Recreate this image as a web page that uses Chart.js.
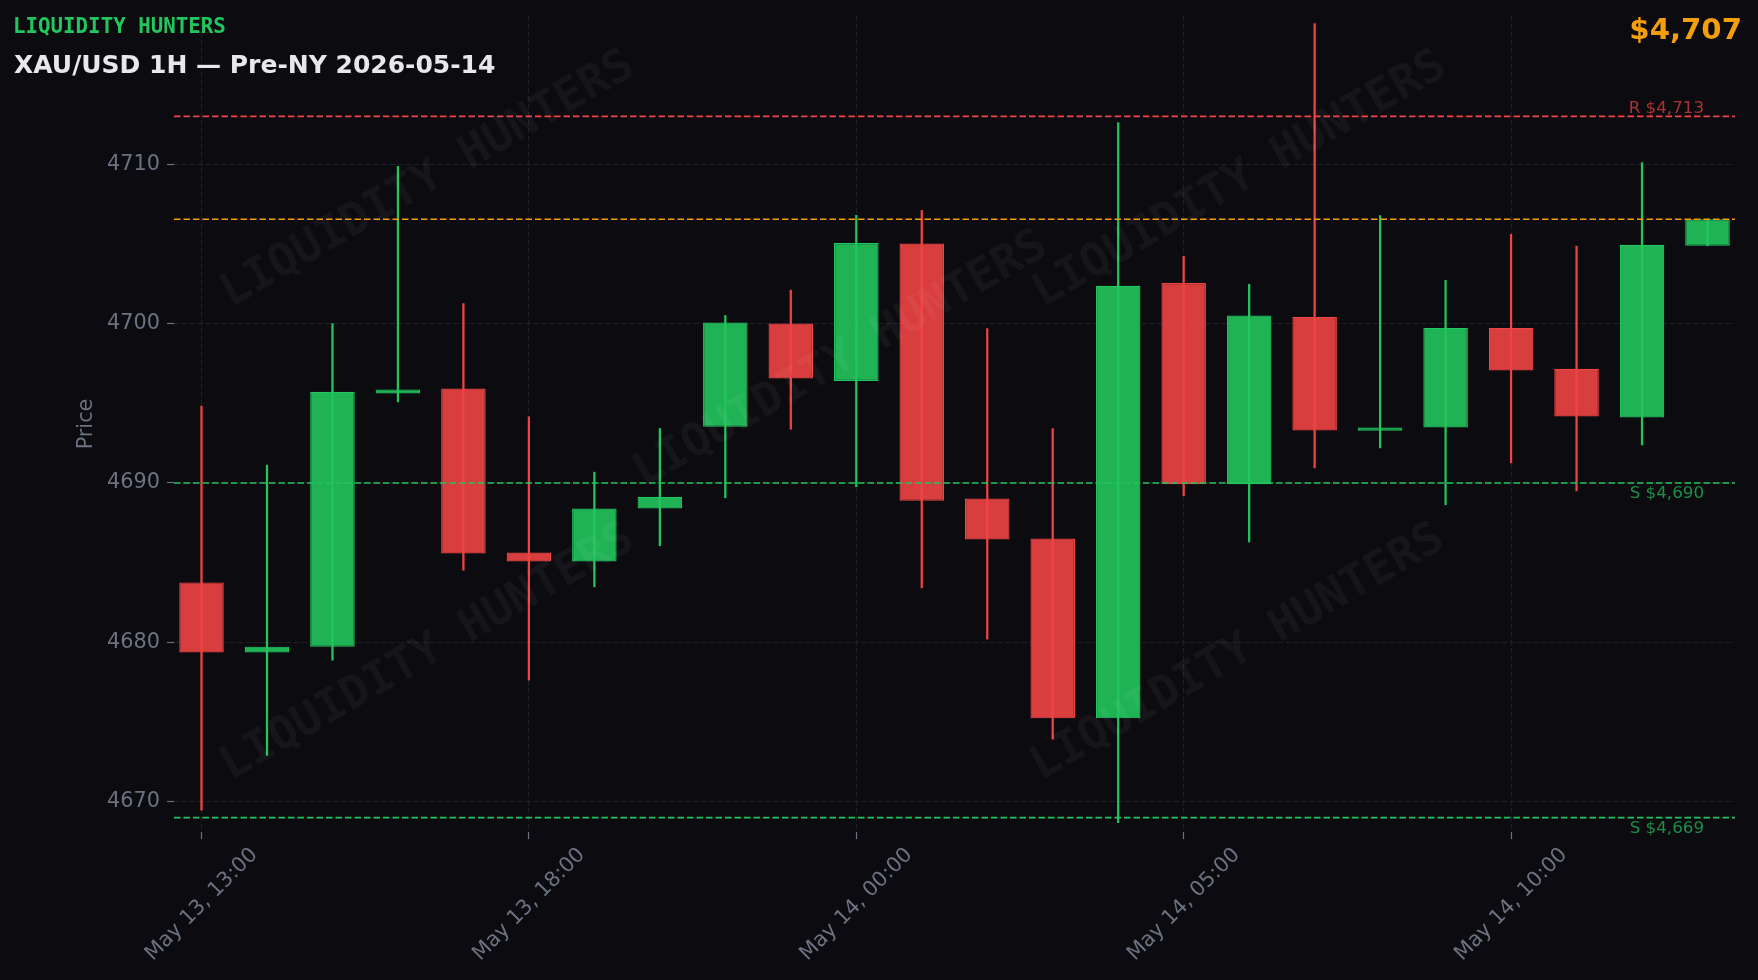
<!DOCTYPE html>
<html>
<head>
<meta charset="utf-8">
<title>XAU/USD 1H</title>
<script src="https://cdn.jsdelivr.net/npm/chart.js@4.4.1/dist/chart.umd.min.js"></script>
<style>
  html, body { margin: 0; padding: 0; background: #0b0b10; }
  #wrap { position: relative; width: 1758px; height: 980px; overflow: hidden; }
  #chart { position: absolute; left: 0; top: 0; }
  .txt { position: absolute; line-height: 1; white-space: nowrap; font-weight: bold; }
  #brand { left: 13px; top: 15.7px; font-family: "DejaVu Sans Mono", monospace; font-size: 20.8px; color: #22c55e; }
  #title { left: 14px; top: 52.2px; font-family: "DejaVu Sans", sans-serif; font-size: 25px; color: #e8e8ec; }
  #price { right: 16px; top: 14.6px; font-family: "DejaVu Sans", sans-serif; font-size: 29.2px; color: #f59e0b; }
</style>
</head>
<body>
<div id="wrap">
  <canvas id="chart" width="1758" height="980"></canvas>
  <div class="txt" id="brand"></div>
  <div class="txt" id="title"></div>
  <div class="txt" id="price"></div>
</div>
<script>
const brandText = "LIQUIDITY HUNTERS";
const titleText = "XAU/USD 1H \u2014 Pre-NY 2026-05-14";

// one hourly candle per label (no 22:00 bar on May 13)
const timeLabels = [
  "May 13, 13:00", "May 13, 14:00", "May 13, 15:00", "May 13, 16:00", "May 13, 17:00",
  "May 13, 18:00", "May 13, 19:00", "May 13, 20:00", "May 13, 21:00", "May 13, 23:00",
  "May 14, 00:00", "May 14, 01:00", "May 14, 02:00", "May 14, 03:00", "May 14, 04:00",
  "May 14, 05:00", "May 14, 06:00", "May 14, 07:00", "May 14, 08:00", "May 14, 09:00",
  "May 14, 10:00", "May 14, 11:00", "May 14, 12:00", "May 14, 13:00"
];
const opens = [
  4683.76, 4679.37, 4679.73, 4695.62, 4695.93, 4685.64, 4685.07, 4688.40,
  4693.52, 4700.00, 4696.40, 4705.02, 4689.02, 4686.52, 4675.23, 4702.55,
  4689.92, 4700.42, 4693.27, 4693.48, 4699.73, 4697.16, 4694.11, 4704.88
];
const highs = [
  4694.82, 4691.12, 4700.00, 4709.87, 4701.26, 4694.15, 4690.68, 4693.42,
  4700.51, 4702.10, 4706.80, 4707.11, 4699.69, 4693.42, 4712.62, 4704.23,
  4702.47, 4718.83, 4706.78, 4702.72, 4705.60, 4704.86, 4710.10, 4706.55
];
const lows = [
  4669.47, 4672.90, 4678.88, 4695.09, 4684.53, 4677.63, 4683.48, 4686.06,
  4689.07, 4693.37, 4689.77, 4683.42, 4680.20, 4673.93, 4668.68, 4689.20,
  4686.30, 4690.95, 4692.20, 4688.64, 4691.26, 4689.50, 4692.39, 4704.88
];
const closes = [
  4679.37, 4679.73, 4695.72, 4695.87, 4685.57, 4685.07, 4688.40, 4689.13,
  4700.07, 4696.56, 4705.06, 4688.88, 4686.45, 4675.23, 4702.37, 4689.92,
  4700.51, 4693.29, 4693.48, 4699.73, 4697.06, 4694.17, 4704.94, 4706.55
];
const resistanceLevels = [4713];
const supportLevels = [4690, 4669];

const UP = "#22c55e";
const DOWN = "#ef4444";
const CURRENT = "#f59e0b";
const MUTED = "#6b7280";
const GRID = "#1e1f28";

const fmt = v => Math.round(v).toLocaleString("en-US");
const lastClose = closes[closes.length - 1];

document.getElementById("brand").textContent = brandText;
document.getElementById("title").textContent = titleText;
document.getElementById("price").textContent = "$" + fmt(lastClose);

const isUp = closes.map((c, i) => c >= opens[i]);

const levels = [
  ...resistanceLevels.map(v => ({ value: v, color: DOWN, label: "R $" + fmt(v), text: "rgba(239,68,68,0.7)", above: true })),
  { value: lastClose, color: CURRENT },
  ...supportLevels.map(v => ({ value: v, color: UP, label: "S $" + fmt(v), text: "rgba(34,197,94,0.7)", above: false })),
];

const watermarkSpots = [[428, 180], [1240, 180], [841, 360], [428, 653], [1238, 653]];

const overlayPlugin = {
  id: "overlay",
  afterDatasetsDraw(chart) {
    const { ctx, chartArea: area, scales: { y } } = chart;
    ctx.save();
    ctx.beginPath();
    ctx.rect(area.left, area.top, area.right - area.left, area.bottom - area.top);
    ctx.clip();

    // faint brand watermark
    ctx.font = 'bold 45.8px "DejaVu Sans Mono"';
    ctx.fillStyle = "rgba(255,255,255,0.045)";
    ctx.textAlign = "center";
    ctx.textBaseline = "middle";
    watermarkSpots.forEach(([cx, cy]) => {
      ctx.save();
      ctx.translate(cx, cy);
      ctx.rotate(-Math.PI / 6);
      ctx.fillText(brandText, 0, 0);
      ctx.restore();
    });

    // support / resistance / current price lines
    ctx.lineWidth = 1.6;
    ctx.setLineDash([6.5, 3]);
    levels.forEach(l => {
      const py = y.getPixelForValue(l.value);
      ctx.strokeStyle = l.color;
      ctx.beginPath();
      ctx.moveTo(area.left, py);
      ctx.lineTo(area.right, py);
      ctx.stroke();
    });
    ctx.restore();

    ctx.save();
    ctx.font = '16.7px "DejaVu Sans"';
    ctx.textAlign = "right";
    ctx.textBaseline = "alphabetic";
    levels.filter(l => l.label).forEach(l => {
      const py = y.getPixelForValue(l.value);
      ctx.fillStyle = l.text;
      ctx.fillText(l.label, area.right - 31, l.above ? py - 3 : py + 15);
    });
    ctx.restore();
  }
};

const tickFont = { family: "DejaVu Sans", size: 20.8 };

new Chart(document.getElementById("chart"), {
  type: "bar",
  data: {
    datasets: [
      {
        label: "Body",
        data: opens.map((o, i) => ({ x: i, y: [o, closes[i]] })),
        backgroundColor: isUp.map(u => u ? "rgba(34,197,94,0.9)" : "rgba(239,68,68,0.9)"),
        borderColor: isUp.map(u => u ? UP : DOWN),
        borderWidth: 1.2,
        borderSkipped: false,
        grouped: false,
        barPercentage: 0.68,
        categoryPercentage: 1,
      },
      {
        label: "Wick",
        data: lows.map((l, i) => ({ x: i, y: [l, highs[i]] })),
        backgroundColor: isUp.map(u => u ? UP : DOWN),
        borderWidth: 0,
        grouped: false,
        barThickness: 1.6,
      },
    ],
  },
  options: {
    responsive: false,
    animation: false,
    events: [],
    layout: { padding: { top: 16, right: 23, left: 0, bottom: 0 } },
    plugins: { legend: { display: false }, tooltip: { enabled: false } },
    scales: {
      x: {
        type: "linear",
        min: -0.42,
        max: 23.42,
        offset: false,
        grid: { color: GRID, lineWidth: 1, offset: false, drawTicks: true, tickLength: 7, tickColor: MUTED, tickWidth: 1.2, tickBorderDash: [] },
        border: { display: false, dash: [5.5, 2.5] },
        ticks: {
          stepSize: 5,
          includeBounds: false,
          autoSkip: false,
          minRotation: 45,
          maxRotation: 45,
          labelOffset: 53,
          padding: 4,
          color: MUTED,
          font: tickFont,
          callback: v => timeLabels[v] ?? "",
        },
        afterFit: s => { s.height = 148; s.paddingLeft = 0; s.paddingRight = 0; },
      },
      y: {
        min: 4668.1,
        max: 4719.3,
        beginAtZero: false,
        grid: { color: GRID, lineWidth: 1, drawTicks: true, tickLength: 7, tickColor: MUTED, tickWidth: 1.2, tickBorderDash: [] },
        border: { display: false, dash: [5.5, 2.5] },
        ticks: {
          stepSize: 10,
          includeBounds: false,
          padding: 7,
          color: MUTED,
          font: tickFont,
          callback: v => String(v),
        },
        title: { display: true, text: "Price", color: MUTED, font: tickFont, padding: { top: 74, bottom: 0 } },
        afterFit: s => { s.width = 174; s.paddingTop = 0; s.paddingBottom = 0; },
      },
    },
  },
  plugins: [overlayPlugin],
});
</script>
</body>
</html>
